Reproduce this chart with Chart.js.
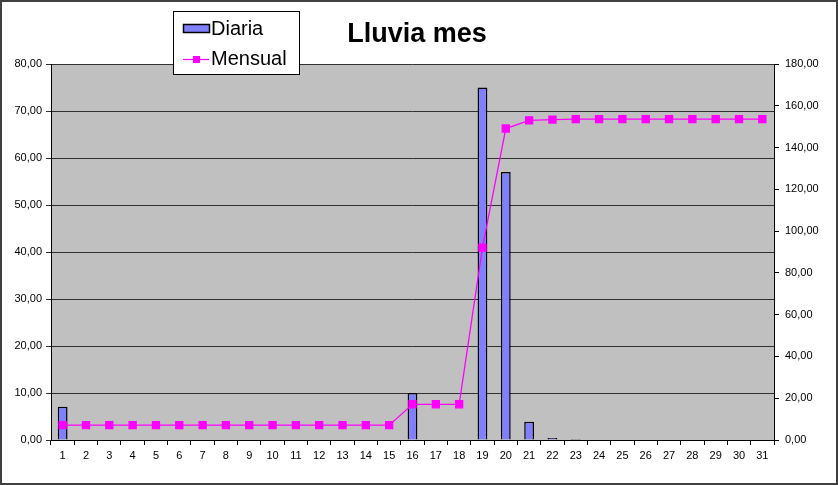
<!DOCTYPE html>
<html>
<head>
<meta charset="utf-8">
<script src="https://cdn.jsdelivr.net/npm/chart.js@4/dist/chart.umd.min.js"></script>
<style>
html,body{margin:0;padding:0;background:#fff;}
#wrap{width:838px;height:485px;position:relative;}
</style>
</head>
<body>
<div id="wrap"><canvas id="c" width="838" height="485"></canvas></div>
<script>
const days = ["1","2","3","4","5","6","7","8","9","10","11","12","13","14","15","16","17","18","19","20","21","22","23","24","25","26","27","28","29","30","31"];
const diaria = [7.1,0,0,0,0,0,0,0,0,0,0,0,0,0,0,10.0,0,0,75.0,57.0,3.9,0.4,0.2,0,0,0,0,0,0,0,0];
const mensual = [7.1,7.1,7.1,7.1,7.1,7.1,7.1,7.1,7.1,7.1,7.1,7.1,7.1,7.1,7.1,17.1,17.1,17.1,92.1,149.1,153.0,153.4,153.6,153.6,153.6,153.6,153.6,153.6,153.6,153.6,153.6];
const leftTicks = [0,10,20,30,40,50,60,70,80];
const rightTicks = [0,20,40,60,80,100,120,140,160,180];
const titleText = "Lluvia mes";

const FONT = "'Liberation Sans', Arial, sans-serif";
const fmt = v => Number(v).toFixed(2).replace('.', ',');

const decor = {
  id: 'decor',
  beforeDraw(chart) {
    const ctx = chart.ctx;
    ctx.save();
    ctx.fillStyle = '#ffffff';
    ctx.fillRect(0, 0, chart.width, chart.height);
    const a = chart.chartArea;
    ctx.fillStyle = '#c0c0c0';
    ctx.fillRect(a.left, a.top, a.right - a.left, a.bottom - a.top);
    ctx.restore();
  },
  afterDraw(chart) {
    const ctx = chart.ctx;
    const a = chart.chartArea;
    ctx.save();
    ctx.strokeStyle = '#000';
    ctx.lineWidth = 1;
    ctx.beginPath();
    ctx.moveTo(Math.round(a.left) + 0.5, a.top);
    ctx.lineTo(Math.round(a.left) + 0.5, a.bottom);
    ctx.moveTo(Math.round(a.right) + 0.5, a.top);
    ctx.lineTo(Math.round(a.right) + 0.5, a.bottom);
    ctx.moveTo(a.left, Math.round(a.bottom) + 0.5);
    ctx.lineTo(a.right, Math.round(a.bottom) + 0.5);
    ctx.stroke();
    ctx.strokeStyle = '#404040';
    ctx.lineWidth = 2;
    ctx.strokeRect(1, 1, chart.width - 2, chart.height - 2);
    ctx.fillStyle = '#000';
    ctx.font = 'bold 27px ' + FONT;
    ctx.textAlign = 'center';
    ctx.textBaseline = 'middle';
    ctx.fillText(titleText, 417, 35);
    ctx.fillStyle = '#fff';
    ctx.fillRect(173, 11, 126, 64);
    ctx.strokeStyle = '#000';
    ctx.lineWidth = 1;
    ctx.strokeRect(173.5, 11.5, 126, 63);
    const ds = chart.data.datasets;
    ctx.fillStyle = ds[0].backgroundColor;
    ctx.fillRect(183, 24, 27, 9);
    ctx.strokeStyle = '#000';
    ctx.lineWidth = 1.5;
    ctx.strokeRect(183.5, 24.5, 26, 8);
    ctx.strokeStyle = ds[1].borderColor;
    ctx.lineWidth = 1.2;
    ctx.beginPath();
    ctx.moveTo(183, 59.5);
    ctx.lineTo(209, 59.5);
    ctx.stroke();
    ctx.fillStyle = ds[1].pointBackgroundColor;
    ctx.fillRect(193, 56, 7, 7);
    ctx.fillStyle = '#000';
    ctx.font = '20px ' + FONT;
    ctx.textAlign = 'left';
    ctx.textBaseline = 'middle';
    ctx.fillText(ds[0].label, 211, 29);
    ctx.fillText(ds[1].label, 211, 59);
    ctx.restore();
  }
};

new Chart(document.getElementById('c'), {
  type: 'bar',
  data: {
    labels: days,
    datasets: [
      {
        type: 'bar',
        label: 'Diaria',
        data: diaria,
        backgroundColor: '#8080ff',
        borderColor: '#000',
        borderWidth: 1.5,
        yAxisID: 'y',
        categoryPercentage: 1,
        barPercentage: 0.42,
        order: 2
      },
      {
        type: 'line',
        label: 'Mensual',
        data: mensual,
        borderColor: '#ff00ff',
        backgroundColor: '#ff00ff',
        pointBackgroundColor: '#ff00ff',
        pointBorderColor: '#ff00ff',
        pointStyle: 'rect',
        pointRadius: 5,
        borderWidth: 1.3,
        tension: 0,
        yAxisID: 'y1',
        order: 1
      }
    ]
  },
  plugins: [decor],
  options: {
    responsive: false,
    animation: false,
    devicePixelRatio: 1,
    layout: { padding: { top: 64, left: 0, right: 0, bottom: 0 } },
    plugins: {
      legend: { display: false },
      title: { display: false },
      tooltip: { enabled: false }
    },
    scales: {
      x: {
        offset: true,
        grid: { display: true, drawOnChartArea: false, drawTicks: true, tickLength: 5, offset: true, color: '#000' },
        border: { display: false },
        ticks: { color: '#000', font: { family: FONT, size: 11 }, padding: 4, maxRotation: 0, autoSkip: false },
        afterFit(s) { s.height = 45; }
      },
      y: {
        position: 'left',
        min: 0, max: 80,
        afterBuildTicks(s) { s.ticks = leftTicks.map(v => ({ value: v })); },
        grid: { color: '#303030', drawTicks: true, tickLength: 5, lineWidth: 1 },
        border: { display: false },
        ticks: { color: '#000', font: { family: FONT, size: 11 }, padding: 4, callback: v => fmt(v) },
        afterFit(s) { s.width = 51; }
      },
      y1: {
        position: 'right',
        min: 0, max: 180,
        afterBuildTicks(s) { s.ticks = rightTicks.map(v => ({ value: v })); },
        grid: { drawOnChartArea: false, drawTicks: true, tickLength: 5, color: '#000' },
        border: { display: false },
        ticks: { color: '#000', font: { family: FONT, size: 11 }, padding: 6, callback: v => fmt(v) },
        afterFit(s) { s.width = 64; }
      }
    }
  }
});
</script>
</body>
</html>
